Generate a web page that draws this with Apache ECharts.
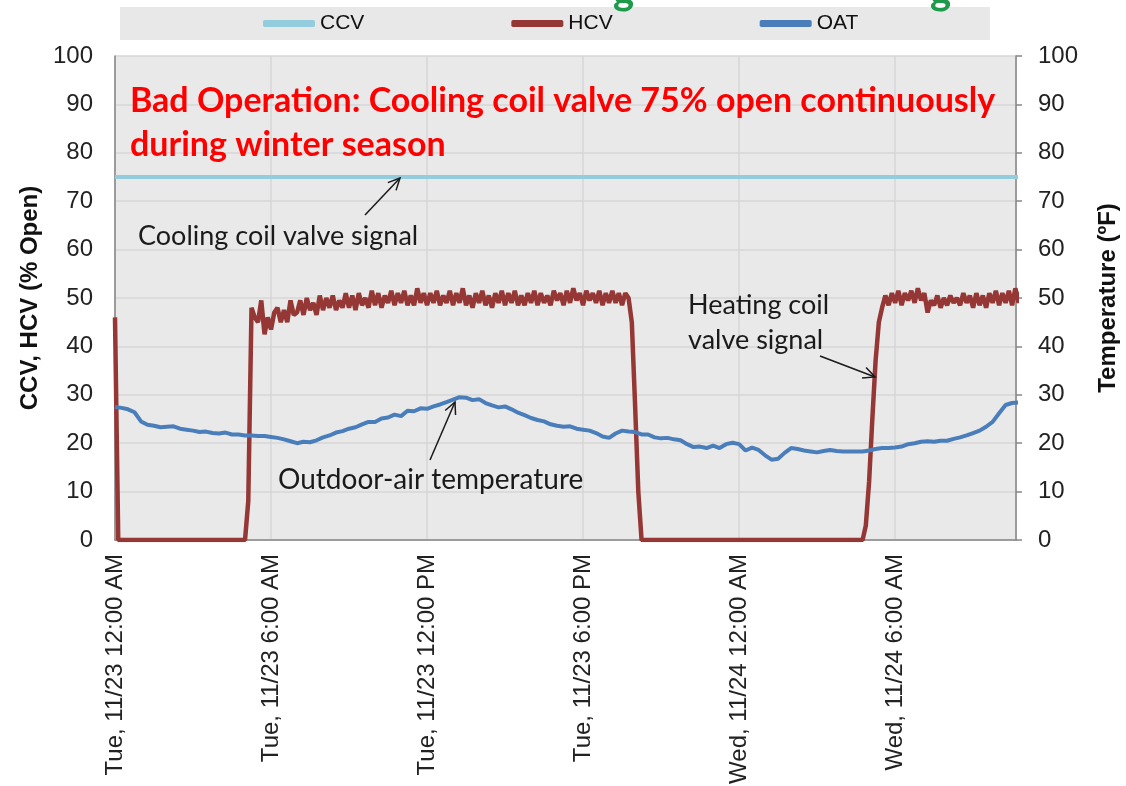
<!DOCTYPE html>
<html>
<head>
<meta charset="utf-8">
<style>
  html, body { margin: 0; padding: 0; background: #fff; }
  #main { width: 1126px; height: 786px; }
</style>
<script src="https://cdn.jsdelivr.net/npm/echarts@6/dist/echarts.min.js"></script>
</head>
<body>
<div id="main"></div>
<script>
// tick labels for the time axis (one every 6 hours)
const timeLabels = [
  'Tue, 11/23 12:00 AM', 'Tue, 11/23 6:00 AM', 'Tue, 11/23 12:00 PM',
  'Tue, 11/23 6:00 PM', 'Wed, 11/24 12:00 AM', 'Wed, 11/24 6:00 AM'
];

// cooling coil valve, % open (flat all the time)
const ccvHours = [0, 34.75];
const ccvValues = [75, 75];

// heating coil valve, % open - one row per hour, 7.5 min apart
const hcvStep = 0.125;
const hcvValues = [
  46, 0, 0, 0, 0, 0, 0, 0,
  0, 0, 0, 0, 0, 0, 0, 0,
  0, 0, 0, 0, 0, 0, 0, 0,
  0, 0, 0, 0, 0, 0, 0, 0,
  0, 0, 0, 0, 0, 0, 0, 0,
  0, 8, 48, 46, 45, 49.5, 42.5, 46,
  43.5, 47, 48, 45, 47.5, 45, 49.5, 46.5,
  47, 49.5, 46.5, 50, 47.5, 49, 46.5, 50.5,
  47.5, 50, 48, 50.5, 47.5, 49.5, 48, 51,
  48, 50.5, 47.5, 51, 48.5, 50, 48, 51.5,
  48.5, 51, 48, 50.5, 49, 51.5, 48.5, 51,
  49, 51.5, 48.5, 50.5, 48.5, 52, 49, 51,
  48.5, 51, 49, 51.5, 48.5, 50.5, 49, 51.5,
  48.5, 51, 49, 52, 48.5, 50.5, 48, 51,
  49, 51.5, 48.5, 50.5, 48, 51, 49, 51.5,
  48.5, 51, 49, 51.5, 48.5, 50.5, 48.5, 51,
  49, 51.5, 48.5, 51, 49, 50.5, 48.5, 51.5,
  49.5, 51, 48.5, 51.5, 49, 52, 49.5, 51,
  48.5, 51.5, 49.5, 51, 49, 51.5, 48.5, 51,
  49, 51.5, 49, 51, 48.5, 51, 50, 45,
  28, 10, 0, 0, 0, 0, 0, 0,
  0, 0, 0, 0, 0, 0, 0, 0,
  0, 0, 0, 0, 0, 0, 0, 0,
  0, 0, 0, 0, 0, 0, 0, 0,
  0, 0, 0, 0, 0, 0, 0, 0,
  0, 0, 0, 0, 0, 0, 0, 0,
  0, 0, 0, 0, 0, 0, 0, 0,
  0, 0, 0, 0, 0, 0, 0, 0,
  0, 0, 0, 0, 0, 0, 0, 3,
  12, 25, 37, 45, 48, 50.5, 48.5, 51,
  49, 51.5, 48.5, 51, 49.5, 51.5, 49, 52,
  49.5, 51, 47, 49.5, 48.5, 50.5, 48, 50,
  48.5, 50.5, 49, 50, 48.5, 51, 49, 50.5,
  48, 51, 48.5, 50.5, 48, 51, 49, 51.5,
  48.5, 51, 49, 51.5, 48.5, 52, 49, 52
];

// outdoor-air temperature, deg F - 15 min apart
const oatStep = 0.25;
const oatValues = [
  27.5, 27.3, 27, 26.4, 24.5, 23.8, 23.6, 23.3, 23.4, 23.5,
  23, 22.8, 22.6, 22.3, 22.4, 22.1, 22, 22.2, 21.8, 21.8,
  21.6, 21.6, 21.5, 21.5, 21.3, 21.1, 20.8, 20.4, 20, 20.3,
  20.2, 20.6, 21.2, 21.6, 22.2, 22.5, 23, 23.3, 23.9, 24.4,
  24.4, 25.1, 25.3, 25.9, 25.6, 26.7, 26.6, 27.2, 27.1, 27.6,
  28, 28.5, 29, 29.5, 29.4, 28.9, 29.1, 28.3, 27.8, 27.4,
  27.6, 27, 26.3, 25.8, 25.2, 24.8, 24.5, 23.9, 23.6, 23.4,
  23.5, 23, 22.8, 22.6, 22.1, 21.4, 21.1, 22, 22.6, 22.4,
  22.3, 21.8, 21.8, 21.2, 21, 21.1, 20.8, 20.6, 19.8, 19.2,
  19.3, 19, 19.5, 19, 19.8, 20.1, 19.8, 18.5, 19.1, 18.6,
  17.5, 16.6, 16.8, 18, 19, 18.8, 18.5, 18.3, 18.1, 18.4,
  18.6, 18.4, 18.3, 18.3, 18.3, 18.3, 18.5, 18.8, 19, 19,
  19.1, 19.3, 19.8, 20, 20.3, 20.4, 20.3, 20.5, 20.5, 20.9,
  21.2, 21.6, 22.1, 22.6, 23.4, 24.4, 26.2, 27.9, 28.3, 28.4
];

const hcvData = hcvValues.map((v, i) => [i * hcvStep, v]);
const oatData = oatValues.map((v, i) => [i * oatStep, v]);
const ccvData = ccvValues.map((v, i) => [ccvHours[i], v]);

// hand-drawn style arrow: shaft + open head
function arrow(x1, y1, x2, y2) {
  const a = Math.atan2(y2 - y1, x2 - x1);
  const len = 13, spread = 0.45;
  const p1 = [x2 - len * Math.cos(a - spread), y2 - len * Math.sin(a - spread)];
  const p2 = [x2 - len * Math.cos(a + spread), y2 - len * Math.sin(a + spread)];
  const style = { stroke: '#1a1a1a', lineWidth: 1.5, fill: null };
  return [
    { type: 'line', shape: { x1: x1, y1: y1, x2: x2, y2: y2 }, style: style, z: 100 },
    { type: 'polyline', shape: { points: [p1, [x2, y2], p2] }, style: style, z: 100 }
  ];
}

const noteFont = 'Lato, "Open Sans", sans-serif';
const axisFont = '"Liberation Sans", Arial, sans-serif';

var chartDom = document.getElementById('main');
var myChart = echarts.init(chartDom);
var option;

option = {
  animation: false,
  backgroundColor: '#fff',
  grid: {
    left: 115,
    right: 110,
    top: 56,
    bottom: 246,
    outerBoundsMode: 'none',
    show: true,
    backgroundColor: '#e9e9e9',
    borderWidth: 0
  },
  legend: {
    top: 8,
    left: 258,
    itemWidth: 52,
    itemHeight: 7,
    itemGap: 147,
    icon: 'roundRect',
    textStyle: { fontSize: 21, fontFamily: axisFont, color: '#111' },
    data: ['CCV', 'HCV', 'OAT']
  },
  xAxis: {
    type: 'value',
    min: 0,
    max: 34.65,
    interval: 6,
    axisLine: { lineStyle: { color: '#868686', width: 1.5 } },
    axisTick: { show: false },
    splitLine: { show: true, lineStyle: { color: '#d6d6d6', width: 1.5 } },
    axisLabel: {
      rotate: 90,
      margin: 14,
      fontSize: 24,
      fontFamily: axisFont,
      color: '#222',
      showMaxLabel: false,
      formatter: function (v) {
        return v % 6 === 0 ? (timeLabels[v / 6] || '') : '';
      }
    }
  },
  yAxis: [{
    type: 'value',
    min: 0,
    max: 100,
    interval: 10,
    name: 'CCV, HCV (% Open)',
    nameLocation: 'middle',
    nameGap: 73,
    nameTextStyle: { fontSize: 24, fontWeight: 'bold', fontFamily: axisFont, color: '#111' },
    axisLine: { show: true, lineStyle: { color: '#868686', width: 1.5 } },
    axisTick: { show: false },
    splitLine: { show: true, lineStyle: { color: '#d6d6d6', width: 1.5 } },
    axisLabel: { margin: 22, fontSize: 24, fontFamily: axisFont, color: '#222' }
  }, {
    type: 'value',
    min: 0,
    max: 100,
    interval: 10,
    position: 'right',
    name: 'Temperature (ºF)',
    nameLocation: 'middle',
    nameGap: 80,
    nameRotate: 90,
    nameTextStyle: { fontSize: 24, fontWeight: 'bold', fontFamily: axisFont, color: '#111' },
    axisLine: { show: true, lineStyle: { color: '#868686', width: 1.5 } },
    axisTick: { show: true, length: 6, lineStyle: { color: '#868686', width: 1.5 } },
    splitLine: { show: false },
    axisLabel: { margin: 22, fontSize: 24, fontFamily: axisFont, color: '#222' }
  }],
  series: [{
    name: 'CCV',
    type: 'line',
    data: ccvData,
    color: '#93cddd',
    showSymbol: false,
    lineStyle: { width: 4 },
    z: 2
  }, {
    name: 'HCV',
    type: 'line',
    data: hcvData,
    color: '#953735',
    showSymbol: false,
    lineStyle: { width: 4.5 },
    z: 3
  }, {
    name: 'OAT',
    type: 'line',
    yAxisIndex: 1,
    data: oatData,
    color: '#4a7ebb',
    showSymbol: false,
    lineStyle: { width: 4 },
    z: 4
  }],
  graphic: [
    // legend box
    { type: 'rect', shape: { x: 120, y: 7, width: 870, height: 33 }, style: { fill: '#e8e8e8' }, z: -1 },
    // tails of the cropped green heading
    { type: 'text', x: 613, y: 11, style: { text: 'g', font: 'bold 40px ' + noteFont, fill: '#1e9a4a', verticalAlign: 'bottom' }, z: 50 },
    { type: 'text', x: 930, y: 11, style: { text: 'g', font: 'bold 40px ' + noteFont, fill: '#1e9a4a', verticalAlign: 'bottom' }, z: 50 },
    {
      type: 'text', x: 130, y: 79, z: 100,
      style: {
        text: 'Bad Operation: Cooling coil valve 75% open continuously\nduring winter season',
        font: 'bold 34px ' + noteFont, fill: '#ff0000', lineHeight: 44, verticalAlign: 'top'
      }
    },
    {
      type: 'text', x: 138, y: 236, z: 100,
      style: { text: 'Cooling coil valve signal', font: '27px ' + noteFont, fill: '#1a1a1a', verticalAlign: 'middle' }
    },
    {
      type: 'text', x: 278, y: 480, z: 100,
      style: { text: 'Outdoor-air temperature', font: '28px ' + noteFont, fill: '#1a1a1a', verticalAlign: 'middle' }
    },
    {
      type: 'text', x: 688, y: 288, z: 100,
      style: { text: 'Heating coil\nvalve signal', font: '27px ' + noteFont, fill: '#1a1a1a', lineHeight: 35, verticalAlign: 'top' }
    }
  ].concat(arrow(365, 215, 400, 178), arrow(430, 460, 455, 402), arrow(820, 356, 875, 377))
};

option && myChart.setOption(option);
</script>
</body>
</html>
